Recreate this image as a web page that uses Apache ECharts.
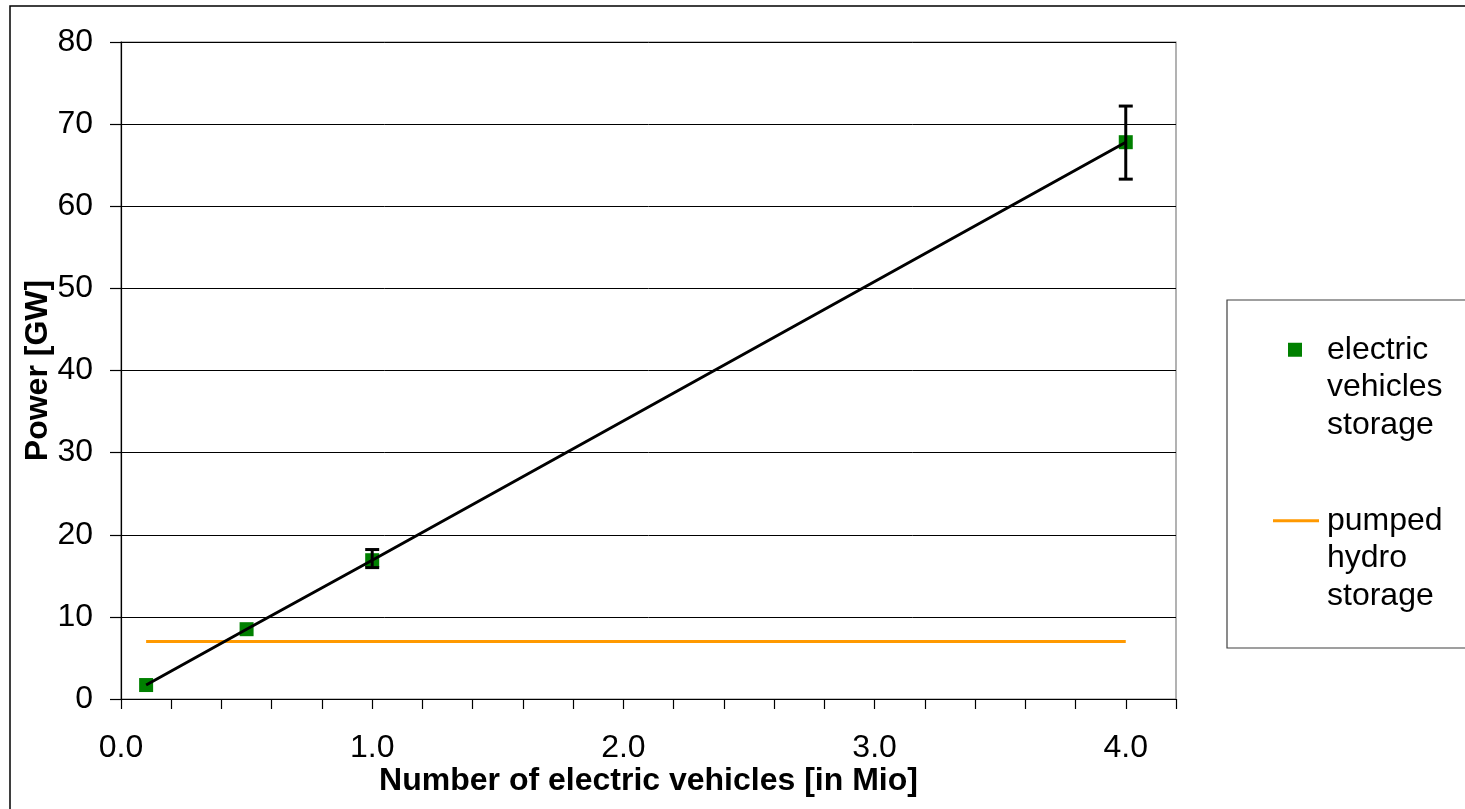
<!DOCTYPE html>
<html>
<head>
<meta charset="utf-8">
<script src="https://cdn.jsdelivr.net/npm/echarts@6/dist/echarts.min.js"></script>
<style>html,body{margin:0;padding:0;background:#fff;}#chart{width:1465px;height:809px;}</style>
</head>
<body>
<div id="chart"></div>
<script>
// Data
const evVehicles = [0.1, 0.5, 1.0, 4.0];          // million vehicles
const evPower = [1.7, 8.5, 16.9, 67.8];            // GW
const errVehicles = [1.0, 4.0];
const errLow = [16.0, 63.3];
const errHigh = [18.2, 72.2];
const hydroVehicles = [0.1, 4.0];
const hydroPower = [7, 7];
const evName = 'electric vehicles storage';
const hydroName = 'pumped hydro storage';
const legendLabels = {};
// two leading blank lines keep the first text line level with the legend icon
legendLabels[evName] = '\n\nelectric\nvehicles\nstorage';
legendLabels[hydroName] = '\n\npumped\nhydro\nstorage';

const FONT = 'Liberation Sans, Arial, sans-serif';
const chart = echarts.init(document.getElementById('chart'));

const evData = evVehicles.map((x, i) => [x, evPower[i]]);
const errData = errVehicles.map((x, i) => [x, errLow[i], errHigh[i]]);
const hydroData = hydroVehicles.map((x, i) => [x, hydroPower[i]]);

const legendText = {
  fontFamily: FONT, fontSize: 32, color: '#000', lineHeight: 37.5
};

chart.setOption({
  animation: false,
  backgroundColor: '#fff',
  graphic: [
    { type: 'rect', z: -10, shape: { x: 10, y: 6, width: 1520, height: 860 }, style: { fill: 'none', stroke: '#000', lineWidth: 1.5 } },
    { type: 'rect', z: 1, shape: { x: 1227, y: 300, width: 300, height: 348 }, style: { fill: '#fff', stroke: '#404040', lineWidth: 1.2 } }
  ],
  grid: { left: 121, top: 42, right: 289, bottom: 110, show: true, borderColor: '#808080', borderWidth: 1.2, backgroundColor: 'transparent' },
  legend: [
    {
      data: [{ name: evName, icon: 'rect' }],
      left: 1288, top: 256, padding: 0, orient: 'vertical',
      itemWidth: 14, itemHeight: 14, z: 5,
      formatter: n => legendLabels[n],
      textStyle: Object.assign({ padding: [0, 0, 0, 20] }, legendText)
    },
    {
      data: [{ name: hydroName, icon: 'path://M0,0 L46,0 L46,3 L0,3 Z' }],
      left: 1273, top: 427, padding: 0, orient: 'vertical',
      itemWidth: 46, itemHeight: 14, z: 5, symbolKeepAspect: true,
      formatter: n => legendLabels[n],
      textStyle: Object.assign({ padding: [0, 0, 0, 3] }, legendText)
    }
  ],
  xAxis: {
    type: 'value', min: 0, max: 4.2, interval: 0.2,
    name: 'Number of electric vehicles [in Mio]', nameLocation: 'middle', nameGap: 66, nameMoveOverlap: false,
    nameTextStyle: { fontFamily: FONT, fontSize: 32, fontWeight: 'bold', color: '#000' },
    axisLine: { show: true, lineStyle: { color: '#000', width: 1.2 } },
    axisTick: { show: true, inside: false, length: 10, lineStyle: { color: '#000', width: 1.2 } },
    axisLabel: {
      margin: 33, fontFamily: FONT, fontSize: 32, color: '#000',
      formatter: v => (Math.abs(v - Math.round(v)) < 1e-6 ? Math.round(v).toFixed(1) : '')
    },
    splitLine: { show: false }
  },
  yAxis: {
    type: 'value', min: 0, max: 80, interval: 10,
    name: 'Power [GW]', nameLocation: 'middle', nameGap: 67, nameMoveOverlap: false,
    nameTextStyle: { fontFamily: FONT, fontSize: 32, fontWeight: 'bold', color: '#000' },
    axisLine: { show: true, lineStyle: { color: '#000', width: 1.2 } },
    axisTick: { show: true, inside: false, length: 11, lineStyle: { color: '#000', width: 1.2 } },
    axisLabel: { margin: 28, fontFamily: FONT, fontSize: 32, color: '#000' },
    splitLine: { show: true, lineStyle: { color: '#000', width: 1 } }
  },
  series: [
    {
      name: hydroName, type: 'line', data: hydroData, symbol: 'none', z: 2,
      lineStyle: { color: '#FF9900', width: 3 }, itemStyle: { color: '#FF9900' }
    },
    {
      name: evName, type: 'scatter', data: evData, symbol: 'rect', symbolSize: 14, z: 3,
      itemStyle: { color: '#008000', opacity: 1 }
    },
    {
      name: 'error', type: 'custom', data: errData, z: 4,
      renderItem: (params, api) => {
        const x = api.value(0);
        const lo = api.coord([x, api.value(1)]);
        const hi = api.coord([x, api.value(2)]);
        const w = 7;
        const st = { stroke: '#000', lineWidth: 3 };
        return {
          type: 'group', children: [
            { type: 'line', shape: { x1: lo[0], y1: lo[1], x2: hi[0], y2: hi[1] }, style: st },
            { type: 'line', shape: { x1: lo[0] - w, y1: lo[1], x2: lo[0] + w, y2: lo[1] }, style: st },
            { type: 'line', shape: { x1: hi[0] - w, y1: hi[1], x2: hi[0] + w, y2: hi[1] }, style: st }
          ]
        };
      }
    },
    {
      name: 'trend', type: 'line', data: evData, symbol: 'none', z: 5,
      lineStyle: { color: '#000', width: 3 }
    }
  ]
});
</script>
</body>
</html>
